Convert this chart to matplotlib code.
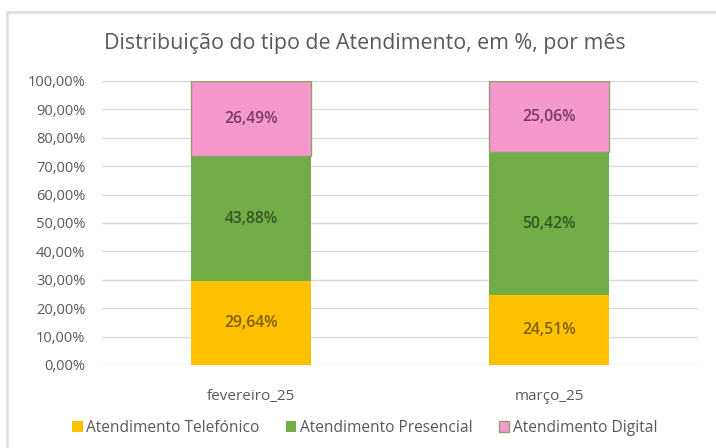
import matplotlib.pyplot as plt
from matplotlib.patches import Rectangle

# Data
months = ['fevereiro_25', 'março_25']
telefonico = [29.64, 24.51]
presencial = [43.88, 50.42]
digital = [26.49, 25.06]
series_names = ['Atendimento Telefónico', 'Atendimento Presencial', 'Atendimento Digital']
yticks = [0, 10, 20, 30, 40, 50, 60, 70, 80, 90, 100]

colors = ['#FFC000', '#70AD47', '#F598CB']
label_colors = ['#7F6000', '#375623', '#7A3A6A']
text_grey = '#595959'

plt.rcParams['font.family'] = ['Open Sans', 'DejaVu Sans']

fig = plt.figure(figsize=(7.16, 4.48), dpi=100)
ax = fig.add_axes([0.1425, 0.1853, 0.8325, 0.6339])

# chart frame
fig.patches.append(Rectangle((7 / 716, -0.1), 1.2, 1 - 12 / 448 + 0.1, transform=fig.transFigure,
                             fill=False, edgecolor='#DDDDDD', linewidth=1.8))

x = range(len(months))
width = 0.405
bottom = [0, 0]
for vals, name, col, lcol in zip([telefonico, presencial, digital], series_names, colors, label_colors):
    edge = '#8F9F6F' if name == 'Atendimento Digital' else 'none'
    bars = ax.bar(x, vals, width, bottom=bottom, color=col, label=name,
                  edgecolor=edge, linewidth=1.0, zorder=3)
    for b, v, bt in zip(bars, vals, bottom):
        ax.text(b.get_x() + b.get_width() / 2, bt + v / 2, f'{v:.2f}%'.replace('.', ','),
                ha='center', va='center', fontsize=11.3, fontweight='semibold',
                color=lcol, zorder=4)
    bottom = [a + b for a, b in zip(bottom, vals)]

ax.set_xlim(-0.5, 1.5)
ax.set_ylim(0, 100)
ax.set_yticks(yticks)
ax.set_yticklabels([f'{t:.2f}%'.replace('.', ',') for t in yticks])
ax.set_xticks(list(x))
ax.set_xticklabels(months)
ax.tick_params(length=0, colors=text_grey)
ax.tick_params(axis='y', pad=12, labelsize=10.5)
ax.tick_params(axis='x', pad=17, labelsize=11)
ax.grid(axis='y', color='#D9D9D9', linewidth=1.0, zorder=0)
for s in ax.spines.values():
    s.set_visible(False)

fig.text(0.51, 1 - 43 / 448, 'Distribuição do tipo de Atendimento, em %, por mês',
         ha='center', va='center', fontsize=15.4, color=text_grey)

ax.legend(loc='center', bbox_to_anchor=(0.51, 1 - 428 / 448), bbox_transform=fig.transFigure,
          ncol=3, frameon=False, fontsize=11.2, labelcolor=text_grey,
          handlelength=0.65, handleheight=0.65, handletextpad=0.25, columnspacing=1.7)

fig.savefig('out.png', dpi=100)
